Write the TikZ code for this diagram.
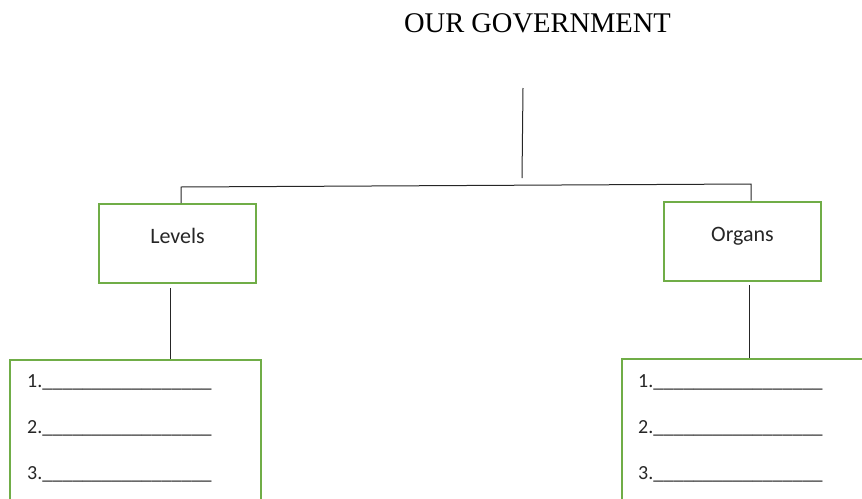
\documentclass[tikz,border=0pt]{standalone}
\usepackage{fontspec}
\setmainfont{Liberation Serif}
\newfontfamily\boxfont{Carlito}
\usepackage{xcolor}
\usepackage{tikz}
\definecolor{boxgreen}{HTML}{70AD47}
\definecolor{linegray}{HTML}{262626}
\definecolor{textgray}{HTML}{262626}
\tikzset{
    every node/.style={font=\boxfont\fontsize{20}{24}\selectfont, text=textgray},
    title/.style={font=\rmfamily\fontsize{28.5}{34}\selectfont, text=black, anchor=base},
    greenbox/.style={draw=boxgreen, line width=2pt, rectangle, text height=10pt, text depth=10pt},
    label font/.style={font=\boxfont\fontsize{22}{26}\selectfont},
    item/.style={anchor=base west, inner sep=0pt},
    link/.style={draw=linegray, line width=1pt}
}
\newcommand{\blankline}{\_\_\_\_\_\_\_\_\_\_\_\_\_\_\_\_\_}

\begin{document}
\begin{tikzpicture}[x=1pt, y=-1pt]
        \useasboundingbox (0,0) rectangle (862,498);

        \node[title] (title) at (537.5,32) {OUR GOVERNMENT};

        \node[greenbox, label font, minimum width=157pt, minimum height=79pt] (levels) at (177.5,243.5) {Levels};
        \node[greenbox, label font, minimum width=157pt, minimum height=79pt] (organs) at (742.5,241) {Organs};

        \node[greenbox, minimum width=251pt, minimum height=200pt] (levlist) at (135.5,460) {};
        \node[greenbox, minimum width=251pt, minimum height=200pt] (orglist) at (747.5,459) {};

        \foreach \i in {1,2,3} {
            \node[item] (lev\i) at (27,341+46*\i) {\i.\blankline};
            \node[item] (org\i) at (638,341+46*\i) {\i.\blankline};
        }

        % branch lines
        \coordinate (top) at (523,88);
        \coordinate (topend) at (522,178);
        \coordinate (lb) at (181,187);
        \coordinate (rb) at (751,184);
        \coordinate (lv) at (170,288);
        \coordinate (og) at (749,285);

        \draw[link] (top) -- (topend);
        \draw[link] (lb |- levels.north) -- (lb) -- (rb) -- (rb |- organs.north);
        \draw[link] (lv) -- (lv |- levlist.north);
        \draw[link] (og) -- (og |- orglist.north);
    \end{tikzpicture}
\end{document}
